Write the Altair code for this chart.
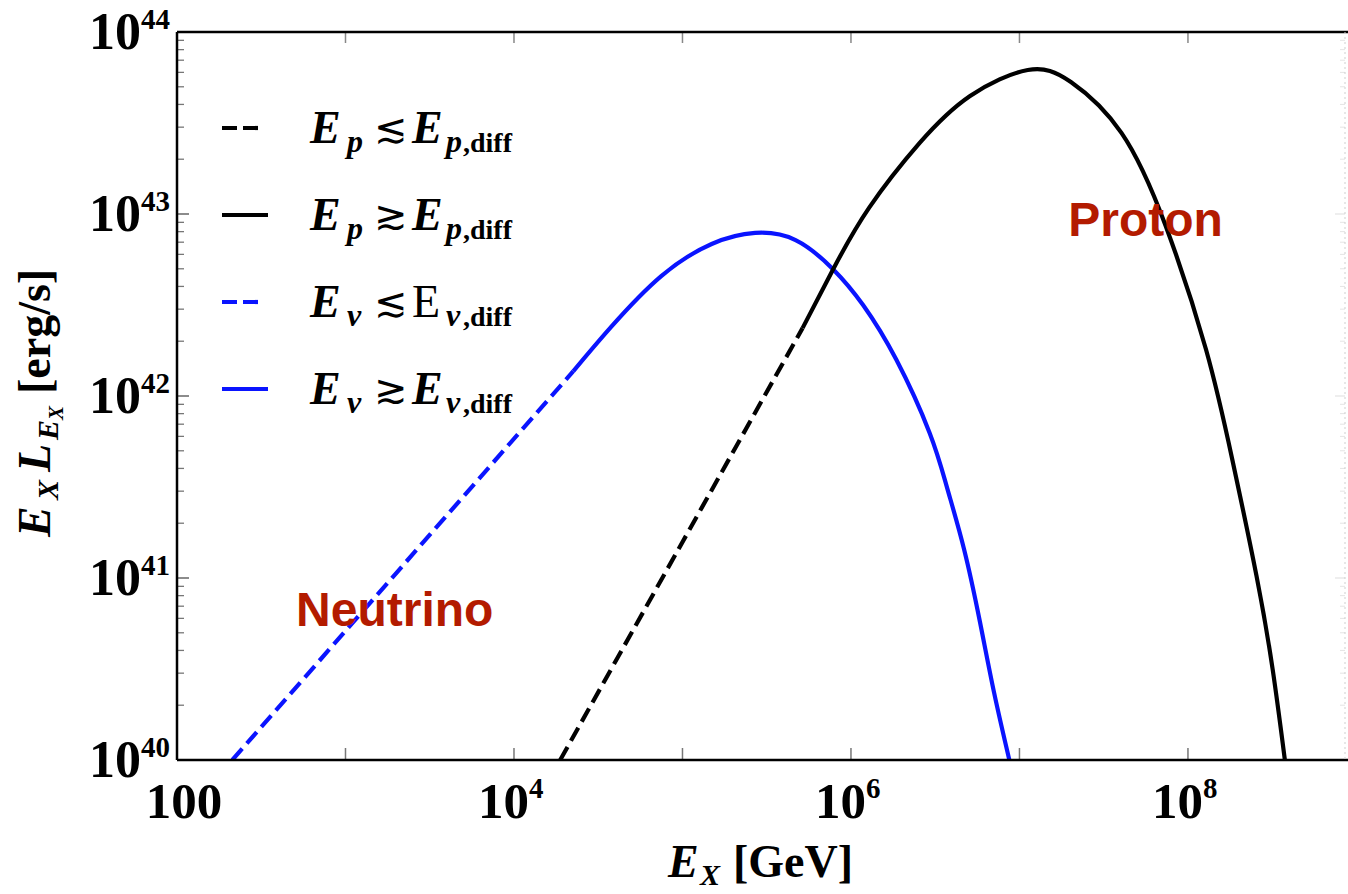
import altair as alt
import pandas as pd

# ---------------- data ----------------
# neutrino, E_nu <~ E_nu,diff (dashed, blue)
nu_low_E = [2.13e2, 2.25e4]
nu_low_L = [1.0e40, 1.37e42]
# neutrino, E_nu >~ E_nu,diff (solid, blue)
nu_high_E = [2.25e4, 3.76e4, 7.48e4, 1.49e5, 2.70e5, 4.69e5, 7.80e5, 1.18e6,
             1.86e6, 2.93e6, 3.71e6, 4.69e6, 5.83e6, 7.08e6, 8.71e6]
nu_high_L = [1.37e42, 2.39e42, 4.56e42, 6.84e42, 7.87e42, 7.19e42, 4.99e42, 3.16e42,
             1.58e42, 6.27e41, 3.16e41, 1.44e41, 5.73e40, 2.33e40, 1.0e40]
# proton, E_p <~ E_p,diff (dashed, black)
p_low_E = [1.88e4, 5.16e5]
p_low_L = [1.0e40, 2.36e42]
# proton, E_p >~ E_p,diff (solid, black)
p_high_E = [5.16e5, 7.91e5, 1.28e6, 2.55e6, 5.09e6, 1.12e7, 2.02e7, 4.03e7,
            7.38e7, 1.28e8, 1.83e8, 2.55e8, 3.18e8, 3.76e8]
p_high_L = [2.36e42, 5.05e42, 1.08e43, 2.45e43, 4.45e43, 6.18e43, 5.31e43, 2.79e43,
            8.59e42, 1.80e42, 4.51e41, 1.03e41, 3.16e40, 1.0e40]

# annotations
annot_text = ["Neutrino", "Proton"]
annot_E = [1.96e3, 5.6e7]
annot_L = [6.5e40, 9.0e42]

# axis ticks and labels
x_tick_vals = [1e2, 1e3, 1e4, 1e5, 1e6, 1e7, 1e8]
x_label_vals = [1e4, 1e6, 1e8]
x_label_exp = ["4", "6", "8"]
y_major_vals = [1e40, 1e41, 1e42, 1e43, 1e44]
y_label_exp = ["40", "41", "42", "43", "44"]
y_minor_vals = [m * 10.0 ** d for d in range(40, 44) for m in range(2, 10)]

W, H = 1171, 728
xs = alt.Scale(type="log", domain=[1e2, 8.91e8])
ys = alt.Scale(type="log", domain=[1e40, 1e44])
SERIF = "Liberation Serif"
SANS = "Liberation Sans"
BLUE = "#0a14ff"
RED = "#b31b00"

def seg(E, L, color, dash):
    df = pd.DataFrame({"E": E, "L": L})
    m = dict(color=color, strokeWidth=4.2, interpolate="natural", clip=True)
    if dash:
        m["strokeDash"] = [15, 7]
    return alt.Chart(df).mark_line(**m).encode(
        x=alt.X("E:Q", scale=xs, axis=None),
        y=alt.Y("L:Q", scale=ys, axis=None),
    )

dummy = pd.DataFrame({"a": [0]})

def txt(t, x, y, size, style="normal", weight="bold", angle=0, color="black",
        font=SERIF, align="left", baseline="alphabetic"):
    kw = dict(text=t, font=font, fontSize=size, fontStyle=style, fontWeight=weight,
              color=color, align=align, baseline=baseline)
    if angle:
        kw["angle"] = angle
    return alt.Chart(dummy).mark_text(**kw).encode(x=alt.value(x), y=alt.value(y))

def rule(x, x2, y, y2, color="black", width=2.5, dash=None):
    kw = dict(color=color, strokeWidth=width)
    if dash:
        kw["strokeDash"] = dash
    return alt.Chart(dummy).mark_rule(**kw).encode(
        x=alt.value(x), x2=alt.value(x2), y=alt.value(y), y2=alt.value(y2))

layers = []

# ---- curves ----
layers += [
    seg(nu_low_E, nu_low_L, BLUE, True),
    seg(nu_high_E, nu_high_L, BLUE, False),
    seg(p_low_E, p_low_L, "black", True),
    seg(p_high_E, p_high_L, "black", False),
]

# ---- ticks (inward) ----
xt = pd.DataFrame({"E": x_tick_vals})
layers.append(alt.Chart(xt).mark_rule(color="#777", strokeWidth=1.5).encode(
    x=alt.X("E:Q", scale=xs, axis=None), y=alt.value(H), y2=alt.value(H - 12)))
layers.append(alt.Chart(xt).mark_rule(color="#888", strokeWidth=1.5).encode(
    x=alt.X("E:Q", scale=xs, axis=None), y=alt.value(0), y2=alt.value(11)))
ymj = pd.DataFrame({"L": y_major_vals})
ymn = pd.DataFrame({"L": y_minor_vals})
layers.append(alt.Chart(ymj).mark_rule(color="#666", strokeWidth=1.5).encode(
    y=alt.Y("L:Q", scale=ys, axis=None), x=alt.value(0), x2=alt.value(12)))
layers.append(alt.Chart(ymn).mark_rule(color="#777", strokeWidth=1.3).encode(
    y=alt.Y("L:Q", scale=ys, axis=None), x=alt.value(0), x2=alt.value(7)))
layers.append(alt.Chart(ymj).mark_rule(color="#ddd", strokeWidth=1).encode(
    y=alt.Y("L:Q", scale=ys, axis=None), x=alt.value(W - 3), x2=alt.value(W - 13)))
layers.append(alt.Chart(ymn).mark_rule(color="#e4e4e4", strokeWidth=1).encode(
    y=alt.Y("L:Q", scale=ys, axis=None), x=alt.value(W - 3), x2=alt.value(W - 8)))

# ---- frame ----
layers += [
    rule(0, 0, 0, H),
    rule(0, W, H, H),
    rule(0, W, 0, 0),
    rule(W - 3, W - 3, 0, H, color="#cfcfcf", width=1, dash=[2, 3]),
]

# ---- tick labels ----
xl = pd.DataFrame({"E": x_label_vals, "exp": x_label_exp})
layers.append(alt.Chart(xl).mark_text(text="10", font=SERIF, fontSize=51, fontWeight="bold",
                                      align="right", dx=15, baseline="alphabetic").encode(
    x=alt.X("E:Q", scale=xs, axis=None), y=alt.value(786)))
layers.append(alt.Chart(xl).mark_text(font=SERIF, fontSize=29, fontWeight="bold",
                                      align="left", dx=15, baseline="alphabetic").encode(
    x=alt.X("E:Q", scale=xs, axis=None), y=alt.value(766), text="exp:N"))
layers.append(txt("100", 7, 786, 51, align="center"))

yl = pd.DataFrame({"L": y_major_vals, "exp": y_label_exp})
layers.append(alt.Chart(yl).mark_text(text="10", font=SERIF, fontSize=52, fontWeight="bold",
                                      align="right", dy=17, baseline="alphabetic").encode(
    y=alt.Y("L:Q", scale=ys, axis=None), x=alt.value(-36)))
layers.append(alt.Chart(yl).mark_text(font=SERIF, fontSize=29, fontWeight="bold",
                                      align="left", dy=-3, baseline="alphabetic").encode(
    y=alt.Y("L:Q", scale=ys, axis=None), x=alt.value(-36), text="exp:N"))

# ---- legend ----
rows = [96, 183, 270, 357]
leg_color = ["black", "black", BLUE, BLUE]
leg_dash = [True, False, True, False]
leg_rel = ["≲", "≳", "≲", "≳"]
leg_sub = ["p", "p", "ν", "ν"]
for i, c in enumerate(rows):
    if leg_dash[i]:
        layers.append(rule(45, 81, c, c, color=leg_color[i], width=4.2, dash=[15, 6]))
    else:
        layers.append(rule(45, 91, c, c, color=leg_color[i], width=4.2))
    layers.append(txt("E", 133, c + 15, 46, style="italic"))
    layers.append(txt(leg_sub[i], 170, c + 24, 32, style="italic"))
    layers.append(txt(leg_rel[i], 197, c + 14, 40, weight="normal", font="DejaVu Serif"))
    if i == 2:
        layers.append(txt("E", 235, c + 15, 46, weight="normal"))
    else:
        layers.append(txt("E", 235, c + 15, 46, style="italic"))
    layers.append(txt(leg_sub[i], 269, c + 24, 32, style="italic"))
    layers.append(txt(",diff", 286, c + 24, 28))

# ---- axis titles ----
layers += [
    txt("E", 491, 845, 46, style="italic"),
    txt("X", 523, 853, 30, style="italic"),
    txt("[GeV]", 556, 845, 46),
    txt("E", -127, 505, 46, style="italic", angle=270),
    txt("X", -119, 468, 30, style="italic", angle=270),
    txt("L", -127, 440, 46, style="italic", angle=270),
    txt("E", -119, 408, 30, style="italic", angle=270),
    txt("X", -114, 388, 21, style="italic", angle=270),
    txt("[erg/s]", -127, 362, 46, angle=270),
]

# ---- annotations ----
an = pd.DataFrame({"E": annot_E, "L": annot_L, "t": annot_text})
layers.append(alt.Chart(an).mark_text(font=SANS, fontSize=48, fontWeight="bold", color=RED,
                                      align="center", baseline="middle").encode(
    x=alt.X("E:Q", scale=xs, axis=None), y=alt.Y("L:Q", scale=ys, axis=None), text="t:N"))

chart = alt.layer(*layers).properties(
    width=W, height=H,
    autosize=alt.AutoSizeParams(type="none"),
    padding={"left": 177, "top": 32, "right": 0, "bottom": 134},
    background="white",
).configure_view(stroke=None)

chart.save("out.html", embed_options={"renderer": "svg", "actions": False})
